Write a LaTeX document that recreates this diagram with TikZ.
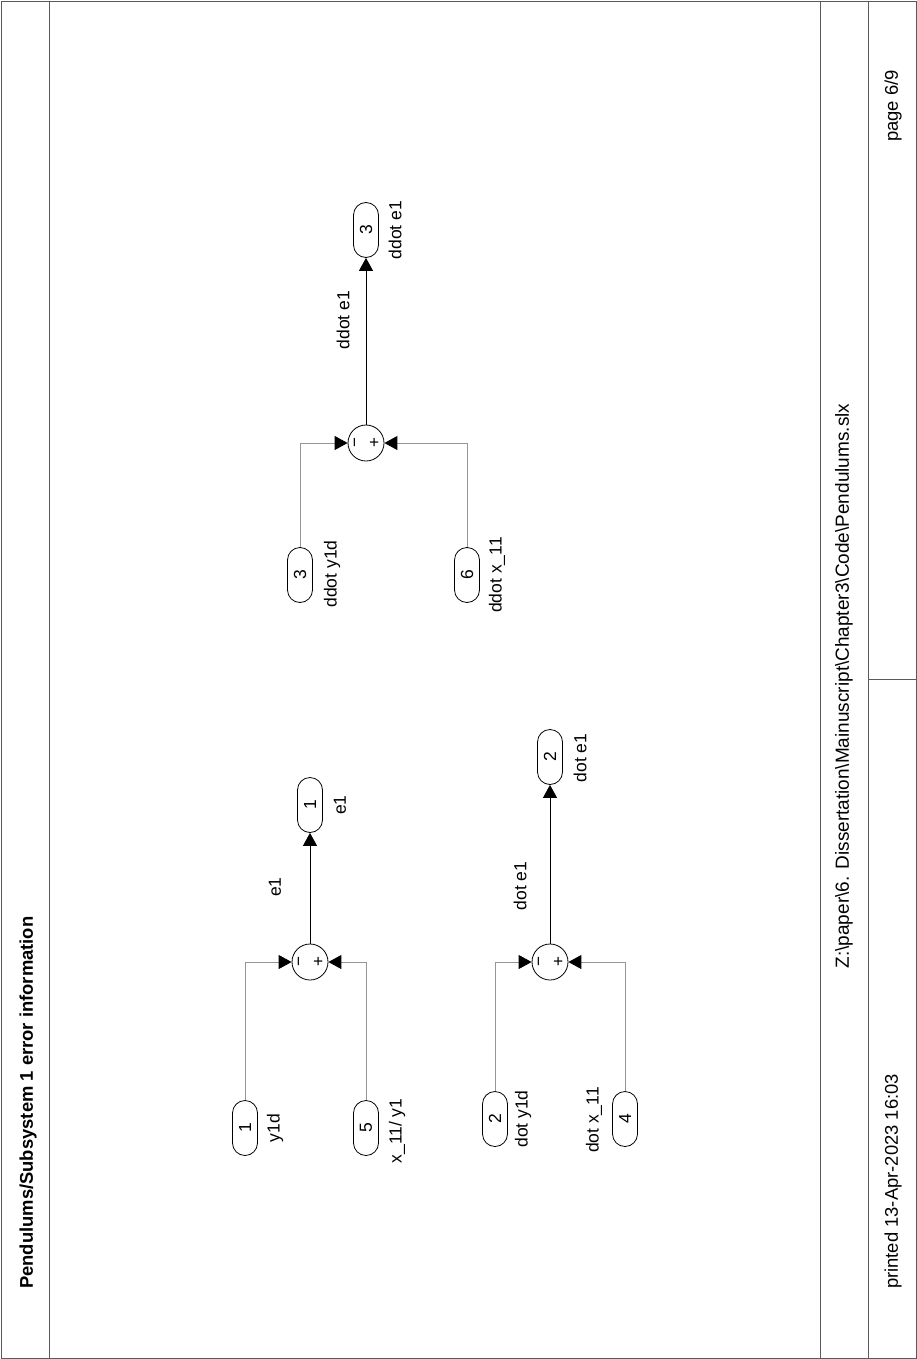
\documentclass[tikz,border=0pt]{standalone}
\usepackage{fontspec}
\setmainfont{Liberation Sans}
\usetikzlibrary{arrows.meta}

\definecolor{framegray}{RGB}{90,90,90}
\definecolor{wiregray}{RGB}{150,150,150}

\begin{document}
\begin{tikzpicture}[x=1pt,y=-1pt,
  lbl/.style={rotate=90, inner sep=0pt, font=\fontsize{17.5}{20}\selectfont},
  hdr/.style={rotate=90, inner sep=0pt, font=\fontsize{18.4}{22}\selectfont},
  port/.style={draw, rotate=90, rounded corners=12.5pt, minimum width=55pt,
    minimum height=25pt, inner sep=0pt, line width=0.8pt,
    font=\fontsize{17.5}{20}\selectfont},
  sumblk/.style={draw, circle, minimum size=36pt, inner sep=0pt, line width=0.8pt},
  sign/.style={rotate=90, inner sep=0pt, font=\fontsize{17}{20}\selectfont},
  insig/.style={draw=wiregray, line width=0.9pt,
    -{Triangle[length=13pt,width=14pt,fill=black,color=black]}},
  outsig/.style={draw=black, line width=1pt,
    -{Triangle[length=13pt,width=14pt]}},
  frameline/.style={draw=framegray, line width=0.9pt}
]
\useasboundingbox (0,0) rectangle (917,1359);
\fill[white] (0,0) rectangle (917,1359);

% page frame and strips
\draw[frameline] (1,1) rectangle (916,1358);
\draw[frameline] (49,1) -- (49,1358);
\draw[frameline] (820,1) -- (820,1358);
\draw[frameline] (868,1) -- (868,1358);
\draw[frameline] (868,679) -- (916,679);

\node[hdr, anchor=west, font=\fontsize{18.4}{22}\selectfont\bfseries] (title) at (28,1289)
  {Pendulums/Subsystem 1 error information};
\node[hdr, font=\fontsize{19}{22}\selectfont] (path) at (844,686)
  {Z:\textbackslash paper\textbackslash 6. Dissertation\textbackslash Mainuscript\textbackslash Chapter3\textbackslash Code\textbackslash Pendulums.slx};
\node[hdr, anchor=west] (printed) at (893,1289) {printed 13-Apr-2023 16:03};
\node[hdr, anchor=east] (pageno) at (893,70) {page 6/9};

% e1 = x_11/y1 - y1d
\node[port] (in1) at (245,1128) {1};
\node[lbl] (in1l) at (275,1128) {y1d};
\node[port] (in5) at (366,1128) {5};
\node[lbl] (in5l) at (397,1131) {x\_11/ y1};
\node[sumblk] (s1) at (310,962) {};
\node[sign] (s1m) at (301,962) {−};
\node[sign] (s1p) at (319,962) {+};
\node[port] (out1) at (310,805) {1};
\node[lbl] (out1l) at (340,805) {e1};
\node[lbl] (w1l) at (275,887) {e1};
\draw[insig] (in1.east) |- (s1.west);
\draw[insig] (in5.east) |- (s1.east);
\draw[outsig] (s1.north) -- (out1.west);

% dot e1 = dot x_11 - dot y1d
\node[port] (in2) at (495,1119) {2};
\node[lbl] (in2l) at (523,1119) {dot y1d};
\node[port] (in4) at (625,1119) {4};
\node[lbl] (in4l) at (594,1120) {dot x\_11};
\node[sumblk] (s2) at (550,962) {};
\node[sign] (s2m) at (541,962) {−};
\node[sign] (s2p) at (559,962) {+};
\node[port] (out2) at (550,757) {2};
\node[lbl] (out2l) at (580,758) {dot e1};
\node[lbl] (w2l) at (520,886) {dot e1};
\draw[insig] (in2.east) |- (s2.west);
\draw[insig] (in4.east) |- (s2.east);
\draw[outsig] (s2.north) -- (out2.west);

% ddot e1 = ddot x_11 - ddot y1d
\node[port] (in3) at (300,575) {3};
\node[lbl] (in3l) at (332,574) {ddot y1d};
\node[port] (in6) at (467,575) {6};
\node[lbl] (in6l) at (497,575) {ddot x\_11};
\node[sumblk] (s3) at (366,443) {};
\node[sign] (s3m) at (357,443) {−};
\node[sign] (s3p) at (375,443) {+};
\node[port] (out3) at (366,230) {3};
\node[lbl] (out3l) at (395,230) {ddot e1};
\node[lbl] (w3l) at (343,320) {ddot e1};
\draw[insig] (in3.east) |- (s3.west);
\draw[insig] (in6.east) |- (s3.east);
\draw[outsig] (s3.north) -- (out3.west);
\end{tikzpicture}
\end{document}
